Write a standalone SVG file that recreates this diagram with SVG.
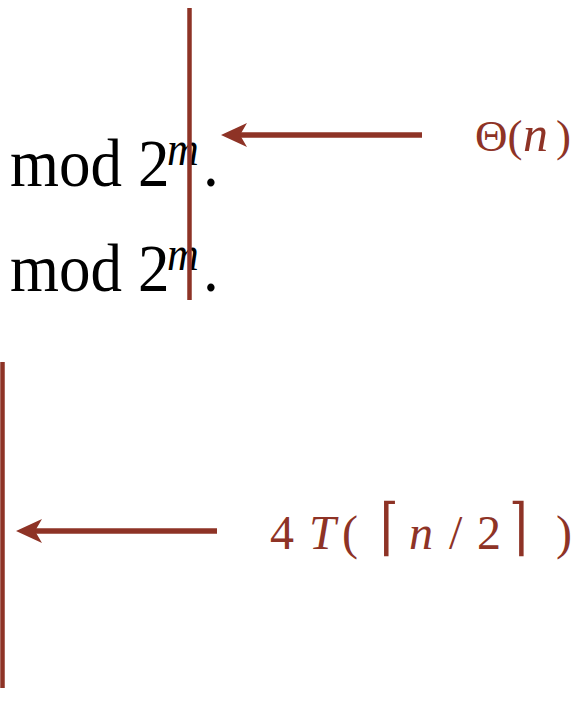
<svg xmlns="http://www.w3.org/2000/svg" width="585" height="719" viewBox="0 0 585 719">
<style>
.blk{font-family:"Liberation Serif","DejaVu Serif",serif;fill:#000}
.red{font-family:"Liberation Serif","DejaVu Serif",serif;fill:#8E3326}
.it{font-style:italic}
.ln{stroke:#8E3326;fill:none}
</style>
<defs>
<marker id="ah" markerUnits="userSpaceOnUse" markerWidth="30" markerHeight="28" refX="7" refY="12" orient="auto" viewBox="0 0 30 24">
<path d="M26,12 L0,0 L7,12 L0,24 Z" fill="#8E3326"/>
</marker>
</defs>
<rect width="585" height="719" fill="#fff"/>
<g id="row1" class="blk">
<text transform="translate(0,186) scale(1,1.08)"><tspan x="10" y="0" font-size="63">mod</tspan><tspan x="138" y="0" font-size="63">2</tspan><tspan x="167" y="-19" font-size="44" class="it">m</tspan><tspan x="203" y="0" font-size="63">.</tspan></text>
</g>
<g id="row2" class="blk">
<text transform="translate(0,291) scale(1,1.08)"><tspan x="10" y="0" font-size="63">mod</tspan><tspan x="138" y="0" font-size="63">2</tspan><tspan x="167" y="-19" font-size="44" class="it">m</tspan><tspan x="203" y="0" font-size="63">.</tspan></text>
</g>
<g id="label-theta" class="red" font-size="45">
<text x="475" y="151">Θ(<tspan x="523" class="it" font-size="50">n</tspan><tspan x="556">)</tspan></text>
</g>
<g id="label-4T" class="red" font-size="48">
<text x="270" y="549">4</text>
<text x="309" y="549" class="it">T</text>
<text x="342" y="549">(</text>
<text transform="translate(380,548) scale(1,1.3)">⌈</text>
<text x="409" y="549" class="it">n</text>
<text x="449" y="549">/</text>
<text x="477" y="549">2</text>
<text transform="translate(509,548) scale(1,1.3)">⌉</text>
<text x="556" y="549">)</text>
</g>
<g id="connectors">
<line class="ln" x1="189.5" y1="8" x2="189.5" y2="300" stroke-width="4.5"/>
<line class="ln" x1="2.5" y1="362" x2="2.5" y2="688" stroke-width="4.5"/>
<line class="ln" x1="422" y1="135" x2="240" y2="135" stroke-width="5.5" marker-end="url(#ah)"/>
<line class="ln" x1="217" y1="531" x2="35" y2="531" stroke-width="5.5" marker-end="url(#ah)"/>
</g>
</svg>
